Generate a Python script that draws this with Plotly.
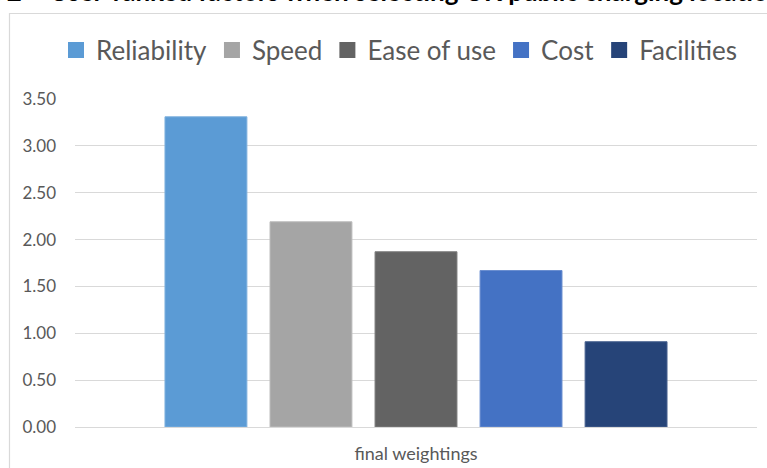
import plotly.graph_objects as go

# Survey results: mean weighting given to each factor
factors = ["Reliability", "Speed", "Ease of use", "Cost", "Facilities"]
weights = [3.31, 2.19, 1.87, 1.67, 0.91]
colors = ["#5B9BD5", "#A5A5A5", "#636363", "#4472C4", "#264478"]
edge_colors = ["#7FB1DE", "#BDBDBD", "#7E7E7E", "#6A8ED0", "#4A6390"]
category = ["final weightings"]
y_ticks = [0, 0.5, 1.0, 1.5, 2.0, 2.5, 3.0, 3.5]
title_text = "Chart 2 \u2013 User-ranked factors when selecting UK public charging locations"

W, H = 767, 468
L, R, T, B = 75, 10, 99, 41
pw, ph = W - L - R, H - T - B

def px_x(p):
    return (p - L) / pw

def px_y(p):
    return (H - B - p) / ph

FONT = "Lato"
GREY = "#595959"

fig = go.Figure()

for name, val, col, edge in zip(factors, weights, colors, edge_colors):
    fig.add_trace(go.Bar(
        x=category, y=[val], name=name,
        marker=dict(color=col, line=dict(color=edge, width=1)),
        showlegend=False,
    ))
    # legend entry with a larger square swatch
    fig.add_trace(go.Scatter(
        x=[None], y=[None], mode="markers", name=name,
        marker=dict(symbol="square", size=16, color=col),
        showlegend=True,
    ))

fig.update_layout(
    width=W, height=H,
    margin=dict(l=L, r=R, t=T, b=B),
    paper_bgcolor="white", plot_bgcolor="white",
    barmode="group", bargap=0.23, bargroupgap=0.22,
    font=dict(family=FONT, color=GREY),
    legend=dict(
        orientation="h", x=px_x(399), xanchor="center",
        y=px_y(50), yanchor="middle",
        font=dict(size=26, color=GREY, family=FONT),
        itemwidth=30, tracegroupgap=0,
    ),
    xaxis=dict(
        type="category", showgrid=False, zeroline=False,
        showline=False, ticks="", ticklabelstandoff=14, automargin=False,
        tickfont=dict(size=18, color=GREY, family=FONT),
    ),
    yaxis=dict(
        range=[0, 3.5], tickvals=y_ticks,
        ticktext=[f"{v:.2f}" for v in y_ticks],
        showgrid=True, gridcolor="#D9D9D9", gridwidth=1,
        zeroline=True, zerolinecolor="#D9D9D9", zerolinewidth=1,
        showline=False, ticks="", ticklabelstandoff=18, automargin=False,
        tickfont=dict(size=17, color=GREY, family=FONT),
    ),
    shapes=[dict(
        type="rect", xref="paper", yref="paper",
        x0=px_x(9.5), x1=px_x(800), y0=px_y(500), y1=px_y(13.5),
        line=dict(color="#D9D9D9", width=1.2), fillcolor="rgba(0,0,0,0)",
        layer="below",
    )],
    annotations=[dict(
        text=f"<b>{title_text}</b>", xref="paper", yref="paper",
        x=px_x(-66), y=px_y(9), xanchor="left", yanchor="bottom",
        showarrow=False, font=dict(size=26, color="#000000", family=FONT),
    )],
)

fig.write_html("out.html")
